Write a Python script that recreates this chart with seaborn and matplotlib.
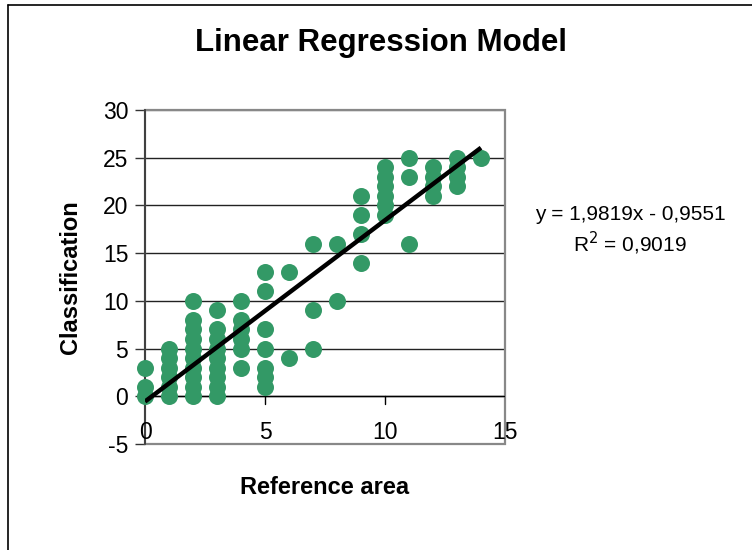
import numpy as np
import pandas as pd
import seaborn as sns
import matplotlib.pyplot as plt
from matplotlib.patches import Rectangle
from matplotlib.lines import Line2D

# Data
x0 = [0, 0, 0]
y0 = [0, 1, 3]
x1 = [1] * 6
y1 = [0, 1, 2, 3, 4, 5]
x2 = [2] * 10
y2 = [0, 1, 2, 3, 4, 5, 6, 7, 8, 10]
x3 = [3] * 9
y3 = [0, 1, 2, 3, 4, 5, 6, 7, 9]
x4 = [4] * 6
y4 = [3, 5, 6, 7, 8, 10]
x5 = [5] * 7
y5 = [1, 2, 3, 5, 7, 11, 13]
x6 = [6, 6]
y6 = [4, 13]
x7 = [7, 7, 7]
y7 = [5, 9, 16]
x8 = [8, 8]
y8 = [10, 16]
x9 = [9] * 4
y9 = [14, 17, 19, 21]
x10 = [10] * 6
y10 = [19, 20, 21, 22, 23, 24]
x11 = [11] * 3
y11 = [16, 23, 25]
x12 = [12] * 4
y12 = [21, 22, 23, 24]
x13 = [13] * 4
y13 = [22, 23, 24, 25]
x14 = [14]
y14 = [25]

ref_area = x0 + x1 + x2 + x3 + x4 + x5 + x6 + x7 + x8 + x9 + x10 + x11 + x12 + x13 + x14
classification = y0 + y1 + y2 + y3 + y4 + y5 + y6 + y7 + y8 + y9 + y10 + y11 + y12 + y13 + y14
df = pd.DataFrame({"Reference area": ref_area, "Classification": classification})

title = "Linear Regression Model"
equation = "y = 1,9819x - 0,9551"
r2_text = "R$^2$ = 0,9019"
x_ticks = [0, 5, 10, 15]
y_ticks = [-5, 0, 5, 10, 15, 20, 25, 30]

sns.set_style("white")
plt.rcParams['font.family'] = ['Liberation Sans', 'DejaVu Sans']
plt.rcParams['text.color'] = 'black'
plt.rcParams['xtick.color'] = 'black'
plt.rcParams['ytick.color'] = 'black'
plt.rcParams['axes.labelcolor'] = 'black'

fig = plt.figure(figsize=(7.52, 5.5), dpi=100)
ax = fig.add_axes([145 / 752, 1 - 444 / 550, 360 / 752, 334 / 550])

sns.regplot(data=df, x="Reference area", y="Classification", ax=ax, ci=None,
            truncate=True,
            scatter_kws=dict(s=150, color="#339966", alpha=1, linewidths=0, zorder=3,
                             clip_on=False),
            line_kws=dict(color="black", lw=3.2, zorder=4, solid_capstyle="butt"))

ax.set_xlim(0, 15)
ax.set_ylim(-5, 30)
ax.set_yticks(y_ticks)
ax.set_xticks(x_ticks)
ax.set_yticklabels([str(v) for v in y_ticks], fontsize=16.5)

# gridlines
for v in y_ticks[1:]:
    ax.axhline(v, color="#222222" if v != 30 else "#888888", lw=1.0, zorder=1)

# spines
for s in ["top", "right", "bottom"]:
    ax.spines[s].set_visible(False)
ax.spines["left"].set_color("#333333")
ax.spines["left"].set_linewidth(1.2)
ax.add_patch(Rectangle((0, 0), 1, 1, transform=ax.transAxes, fill=False,
                       edgecolor="#888888", lw=1.6, zorder=2, clip_on=False))
ax.axhline(0, color="black", lw=1.0, zorder=2)

ax.tick_params(axis="y", direction="out", length=7, width=1, color="#333333",
               left=True, pad=5)
ax.tick_params(axis="x", length=0, labelbottom=False)
for v in x_ticks:
    ax.annotate(str(v), xy=(v, 0), xycoords="data", xytext=(0, -26),
                textcoords="offset points", ha="center", va="center", fontsize=16.5)
for v in x_ticks[1:-1]:
    ax.plot([v, v], [0, -0.85], color="black", lw=1.0, zorder=2, clip_on=False)

ax.set_xlabel("")
ax.set_ylabel("")
fig.text(325 / 752, 1 - 487 / 550, "Reference area", ha="center", va="center",
         fontsize=17, fontweight="bold")
fig.text(70 / 752, 1 - 277 / 550, "Classification", ha="center", va="center",
         rotation=90, fontsize=17, fontweight="bold")
fig.text(381 / 752, 1 - 43 / 550, title, ha="center", va="center",
         fontsize=22.5, fontweight="bold")
fig.text(630 / 752, 1 - 215 / 550, equation, ha="center", va="center", fontsize=15)
fig.text(630 / 752, 1 - 243 / 550, r2_text, ha="center", va="center", fontsize=15)

# outer chart frame
fig.add_artist(Line2D([8 / 752, 8 / 752], [0, 1 - 5 / 550], transform=fig.transFigure,
                      color="black", lw=1.2))
fig.add_artist(Line2D([8 / 752, 1], [1 - 5 / 550, 1 - 5 / 550], transform=fig.transFigure,
                      color="black", lw=1.2))

fig.savefig("out.png", dpi=100)
